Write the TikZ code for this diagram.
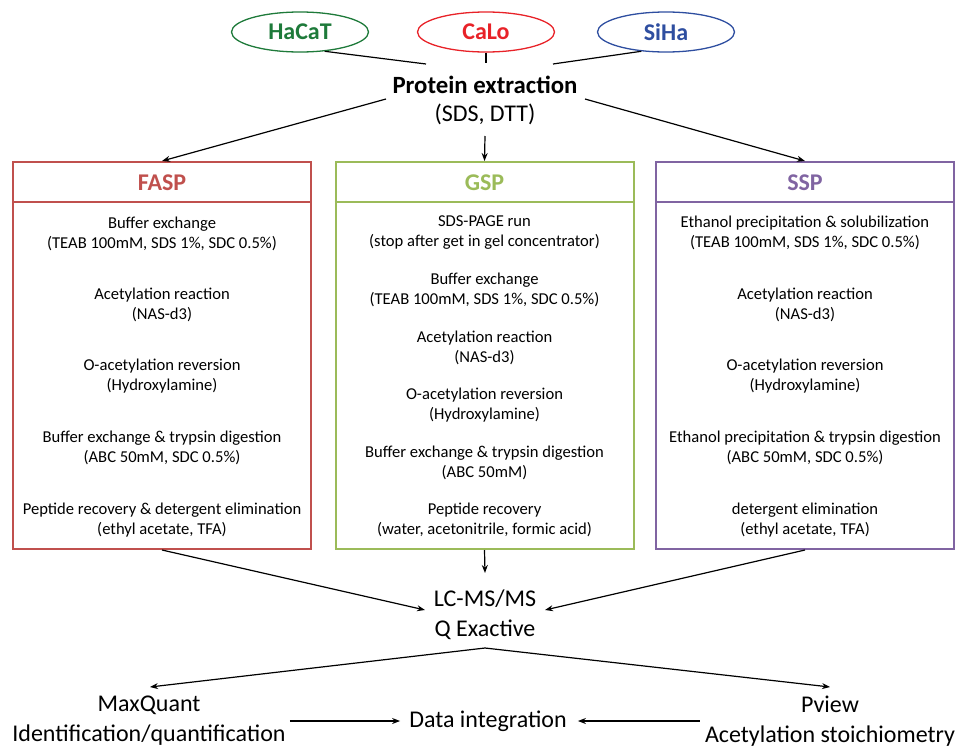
\documentclass[tikz,border=0pt]{standalone}
\usepackage{fontspec}
\setmainfont{Carlito}
\usepackage{xcolor}
\usepackage{tikz}
\usetikzlibrary{positioning,arrows.meta,shapes.geometric}

\definecolor{hacatgreen}{RGB}{30,122,58}
\definecolor{calored}{RGB}{232,34,40}
\definecolor{sihablue}{RGB}{46,78,160}
\definecolor{faspred}{HTML}{C0504D}
\definecolor{gspgreen}{HTML}{9BBB59}
\definecolor{ssppurple}{HTML}{8064A2}

\tikzset{
	cellline/.style={ellipse,draw,line width=1.3pt,minimum width=137pt,minimum height=40pt,inner sep=0pt,font=\fontsize{24}{28}\selectfont\bfseries},
	protobox/.style={draw,line width=2pt,minimum width=298pt,minimum height=387pt,inner sep=0pt},
	protohead/.style={inner sep=0pt,font=\fontsize{24}{28}\selectfont\bfseries},
	stepitem/.style={align=center,inner sep=0pt,font=\fontsize{16.6}{20}\selectfont},
	bigtext/.style={align=center,inner sep=1pt,font=\fontsize{24}{30}\selectfont},
	link/.style={line width=1.2pt},
	flow/.style={link,-{Stealth[length=8pt,width=6pt]}}
}

\begin{document}
\begin{tikzpicture}[x=1pt,y=-1pt]
	\useasboundingbox (0,0) rectangle (962,747);
	% cell lines
	\node[cellline,hacatgreen] (hacat) at (300,32) {HaCaT};
	\node[cellline,calored] (calo) at (486,32) {CaLo};
	\node[cellline,sihablue] (siha) at (666,32) {SiHa};
	\node[bigtext,font=\fontsize{24}{28}\selectfont] (extract) at (485,100) {{\fontsize{24.8}{28}\selectfont\bfseries Protein extraction}\\(SDS, DTT)};
	\coordinate (extL) at (426,64);
	\coordinate (extM) at (486,63);
	\coordinate (extR) at (553,64);
	\draw[link] (hacat.-38) -- (extL);
	\draw[link] (calo.south) -- (extM);
	\draw[link] (siha.-142) -- (extR);
	% protocols
	\node[protobox,faspred] (fasp) at (162,355.5) {};
	\node[protobox,gspgreen] (gsp) at (484.5,355.5) {};
	\node[protobox,ssppurple] (ssp) at (805,355.5) {};
	\foreach \proto/\col/\name in {fasp/faspred/FASP,gsp/gspgreen/GSP,ssp/ssppurple/SSP}{
		\draw[\col,line width=2pt] ([yshift=-41pt]\proto.north west) -- ([yshift=-41pt]\proto.north east);
		\node[protohead,\col] (\proto name) at ([yshift=-22pt]\proto.north) {\name};
	}
	\foreach \n/\y/\txt in {1/234/{Buffer exchange\\(TEAB 100mM, SDS 1\%, SDC 0.5\%)},
		2/305/{Acetylation reaction\\(NAS-d3)},
		3/376/{O-acetylation reversion\\(Hydroxylamine)},
		4/448/{Buffer exchange \& trypsin digestion\\(ABC 50mM, SDC 0.5\%)},
		5/520/{Peptide recovery \& detergent elimination\\(ethyl acetate, TFA)}}
		\node[stepitem] (fasp\n) at (162,\y) {\txt};
	\foreach \n/\y/\txt in {1/233/{SDS-PAGE run\\(stop after get in gel concentrator)},
		2/290/{Buffer exchange\\(TEAB 100mM, SDS 1\%, SDC 0.5\%)},
		3/348/{Acetylation reaction\\(NAS-d3)},
		4/405/{O-acetylation reversion\\(Hydroxylamine)},
		5/462.5/{Buffer exchange \& trypsin digestion\\(ABC 50mM)},
		6/519.5/{Peptide recovery\\(water, acetonitrile, formic acid)}}
		\node[stepitem] (gsp\n) at (484.5,\y) {\txt};
	\foreach \n/\y/\txt in {1/233/{Ethanol precipitation \& solubilization\\(TEAB 100mM, SDS 1\%, SDC 0.5\%)},
		2/305/{Acetylation reaction\\(NAS-d3)},
		3/376/{O-acetylation reversion\\(Hydroxylamine)},
		4/448/{Ethanol precipitation \& trypsin digestion\\(ABC 50mM, SDC 0.5\%)},
		5/520/{detergent elimination\\(ethyl acetate, TFA)}}
		\node[stepitem] (ssp\n) at (805,\y) {\txt};
	\coordinate (outL) at (386,99);
	\coordinate (outM) at (485,136);
	\coordinate (outR) at (585,99);
	\draw[flow] (outL) -- (fasp.north);
	\draw[flow] (outM) -- (gsp.north);
	\draw[flow] (outR) -- (ssp.north);
	% mass spec
	\node[bigtext] (lcms) at (485,615) {LC-MS/MS\\Q Exactive};
	\coordinate (msL) at (425,610);
	\coordinate (msM) at (485,573);
	\coordinate (msR) at (545,610);
	\draw[flow] (fasp.south) -- (msL);
	\draw[flow] (gsp.south) -- (msM);
	\draw[flow] (ssp.south) -- (msR);
	% analysis
	\node[bigtext] (maxq) at (149,721) {MaxQuant\\Identification/quantification};
	\node[bigtext] (pview) at (830,721) {Pview\\Acetylation stoichiometry};
	\node[bigtext] (integ) at (488,721) {Data integration};
	\coordinate (msout) at (485,648);
	\coordinate (maxqin) at (150,687);
	\coordinate (pviewin) at (830,687);
	\draw[flow] (msout) -- (maxqin);
	\draw[flow] (msout) -- (pviewin);
	\draw[flow,shorten <=3pt,shorten >=8pt] (maxq.east) -- (integ.west);
	\draw[flow,shorten <=4pt,shorten >=10pt] (pview.west) -- (integ.east);
\end{tikzpicture}
\end{document}
